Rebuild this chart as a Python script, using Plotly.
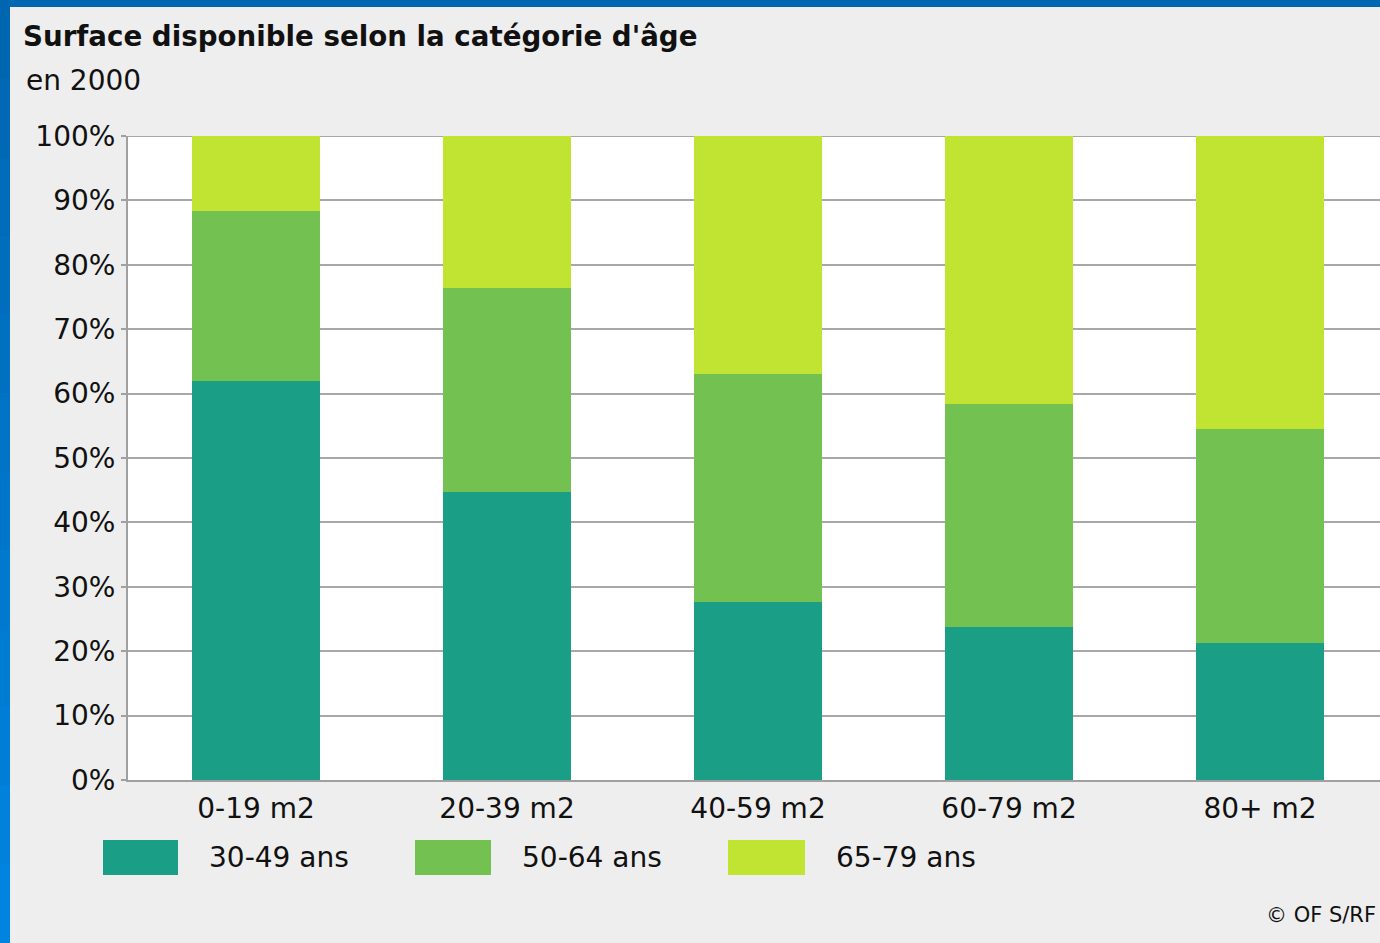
import plotly.graph_objects as go

categories = ["0-19 m2", "20-39 m2", "40-59 m2", "60-79 m2", "80+ m2"]
series_names = ["30-49 ans", "50-64 ans", "65-79 ans"]
s_30_49 = [62.0, 44.7, 27.6, 23.8, 21.3]
s_50_64 = [26.4, 31.7, 35.4, 34.6, 33.2]
s_65_79 = [11.6, 23.6, 37.0, 41.6, 45.5]
y_ticks = [0, 10, 20, 30, 40, 50, 60, 70, 80, 90, 100]
colors = ["#1b9e86", "#73c150", "#c1e332"]

W, H = 1380, 943
L, R, T, B = 128, 0, 136, 163
PW, PH = W - L - R, H - T - B

def px(x):
    return (x - L) / PW

def py(y):
    return (H - B - y) / PH

FONT = "DejaVu Sans"
TXT = "#111111"

fig = go.Figure()
for name, vals, col in zip(series_names, [s_30_49, s_50_64, s_65_79], colors):
    fig.add_trace(go.Bar(x=categories, y=vals, name=name, marker=dict(color=col, line=dict(width=0)),
                         width=0.51, showlegend=False))

shapes = []
annotations = []
# top gridline (at the top of the range, which plotly hides)
shapes.append(dict(type="line", xref="paper", yref="y", x0=0, x1=1, y0=y_ticks[-1], y1=y_ticks[-1],
                   line=dict(color="#a8a8a8", width=2), layer="below"))
# blue frame
shapes.append(dict(type="rect", xref="paper", yref="paper", x0=px(0), x1=px(W), y0=py(0), y1=py(7),
                   fillcolor="#0068b2", line=dict(width=0), layer="above"))
nseg = 12
for i in range(nseg):
    y0 = i * H / nseg
    y1 = (i + 1) * H / nseg
    t = i / (nseg - 1)
    g = int(0x66 + t * (0x84 - 0x66))
    b = int(0xb0 + t * (0xe0 - 0xb0))
    shapes.append(dict(type="rect", xref="paper", yref="paper", x0=px(0), x1=px(10), y0=py(y0), y1=py(y1 + 1),
                       fillcolor=f"rgb(0,{g},{b})", line=dict(width=0), layer="above"))

# legend swatches
leg_sw = [(103, 178, 207), (415, 491, 520), (728, 805, 834)]
for (sx0, sx1, tx), name, col in zip(leg_sw, series_names, colors):
    shapes.append(dict(type="rect", xref="paper", yref="paper", x0=px(sx0), x1=px(sx1), y0=py(875), y1=py(840),
                       fillcolor=col, line=dict(width=0)))
    annotations.append(dict(xref="paper", yref="paper", x=px(tx), y=py(857), text=name, showarrow=False,
                            xanchor="left", yanchor="middle", font=dict(family=FONT, size=28, color=TXT)))

annotations.append(dict(xref="paper", yref="paper", x=px(21), y=py(36), text="<b>Surface disponible selon la catégorie d'âge</b>",
                        showarrow=False, xanchor="left", yanchor="middle", font=dict(family=FONT, size=27.7, color=TXT)))
annotations.append(dict(xref="paper", yref="paper", x=px(24), y=py(80), text="en 2000",
                        showarrow=False, xanchor="left", yanchor="middle", font=dict(family=FONT, size=28, color=TXT)))
annotations.append(dict(xref="paper", yref="paper", x=px(1378), y=py(915), text="© OF S/RF",
                        showarrow=False, xanchor="right", yanchor="middle", font=dict(family=FONT, size=21, color=TXT)))

fig.update_layout(
    width=W, height=H,
    margin=dict(l=L, r=R, t=T, b=B, pad=0),
    barmode="stack",
    paper_bgcolor="#eeeeee",
    plot_bgcolor="#ffffff",
    shapes=shapes,
    annotations=annotations,
    font=dict(family=FONT, size=28, color=TXT),
    xaxis=dict(range=[-0.51, 4.478], showgrid=False, showline=True, linecolor="#a0a0a0", linewidth=2,
               ticks="outside", ticklen=2, tickcolor="rgba(0,0,0,0)", tickfont=dict(family=FONT, size=28, color=TXT),
               fixedrange=True),
    yaxis=dict(range=[0, 100], tickvals=y_ticks, ticktext=[f"{v}%" for v in y_ticks],
               showgrid=True, gridcolor="#a8a8a8", gridwidth=2, showline=True, linecolor="#a0a0a0", linewidth=2,
               ticks="outside", ticklen=5, tickcolor="#a0a0a0", tickwidth=2,
               tickfont=dict(family=FONT, size=28, color=TXT), zeroline=False, fixedrange=True),
)

fig.write_html("out.html", config={"displayModeBar": False},
               post_script="document.body.style.margin='0';document.body.style.overflow='hidden';")
